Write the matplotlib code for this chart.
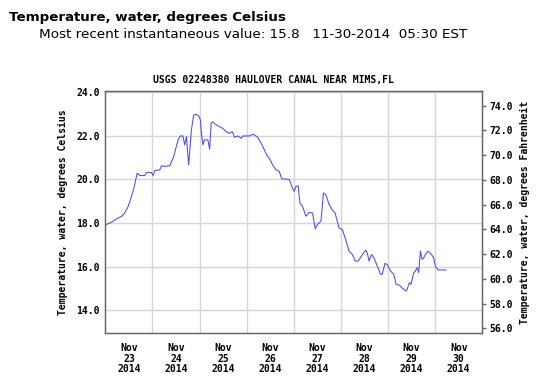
import numpy as np
import matplotlib
matplotlib.use("Agg")
import matplotlib.pyplot as plt
import pandas as pd

# hours since 2014-11-23 00:00 EST, water temperature in deg C
hours = [0.0, 1.5, 4.0, 5.7, 8.3, 9.9, 11.6, 13.3, 14.5, 16.2, 17.6, 20.1, 21.0, 23.5,
         24.3, 25.2, 27.7, 28.6, 30.2, 32.8, 34.8, 37.0, 38.2, 39.5, 40.4, 41.3, 42.4,
         42.9, 43.8, 45.0, 46.3, 47.6, 48.4, 48.9, 49.7, 50.5, 52.2, 53.1, 53.9, 54.7,
         56.0, 58.1, 59.8, 61.5, 63.2, 64.6, 65.8, 67.4, 69.2, 70.0, 73.4, 75.4, 77.6,
         79.3, 81.0, 82.1, 83.5, 85.2, 86.9, 88.6, 89.8, 92.0, 93.7, 95.3, 96.2, 97.1,
         98.2, 99.1, 100.4, 102.2, 103.8, 105.5, 106.9, 108.0, 109.8, 111.1, 112.3,
         114.0, 115.6, 117.0, 119.0, 120.7, 122.4, 124.1, 125.8, 127.2, 128.8, 130.9,
         132.6, 133.4, 134.3, 135.6, 136.8, 138.5, 140.2, 141.0, 142.4, 143.5, 145.3,
         146.9, 148.1, 149.8, 151.5, 153.2, 153.7, 154.9, 155.7, 157.1, 157.9, 158.8,
         159.6, 160.5, 161.3, 162.2, 163.0, 164.4, 166.1, 167.2, 168.1, 169.4, 173.5]
temp_c = [17.90, 17.97, 18.08, 18.19, 18.31, 18.46, 18.76, 19.22, 19.60, 20.29, 20.18,
          20.18, 20.32, 20.32, 20.18, 20.41, 20.44, 20.63, 20.60, 20.63, 21.05, 21.82,
          22.00, 22.00, 21.59, 21.97, 20.67, 21.20, 22.27, 22.96, 22.99, 22.92, 22.73,
          22.12, 21.59, 21.82, 21.82, 21.39, 22.58, 22.65, 22.54, 22.43, 22.35, 22.20,
          22.12, 22.20, 21.94, 22.00, 21.89, 22.00, 22.00, 22.08, 21.94, 21.67, 21.36,
          21.13, 20.98, 20.67, 20.44, 20.37, 20.03, 20.02, 19.99, 19.60, 19.45, 19.68,
          19.71, 18.92, 18.76, 18.31, 18.49, 18.46, 17.73, 17.93, 18.08, 19.38, 19.30,
          18.84, 18.61, 18.46, 17.78, 17.70, 17.24, 16.71, 16.55, 16.25, 16.25, 16.55,
          16.75, 16.63, 16.25, 16.55, 16.40, 16.02, 15.64, 15.64, 16.14, 16.10, 15.79,
          15.64, 15.18, 15.14, 14.98, 14.87, 14.95, 15.26, 15.18, 15.72, 15.79, 15.95,
          15.72, 16.71, 16.33, 16.41, 16.55, 16.71, 16.55, 16.41, 16.02, 15.84, 15.84]

c_ticks = [14, 16, 18, 20, 22, 24]
f_ticks = [56, 58, 60, 62, 64, 66, 68, 70, 72, 74]
day_labels = ["Nov\n23\n2014", "Nov\n24\n2014", "Nov\n25\n2014", "Nov\n26\n2014",
              "Nov\n27\n2014", "Nov\n28\n2014", "Nov\n29\n2014", "Nov\n30\n2014"]

start = pd.Timestamp("2014-11-23")
times = start + pd.to_timedelta(hours, unit="h")

mono = "DejaVu Sans Mono"
fig = plt.figure(figsize=(5.5, 3.77), dpi=100)
ax = fig.add_axes([0.1916, 0.1159, 0.6853, 0.6435])

# grid
ax.set_axisbelow(True)
ax.grid(True, which="major", color="#d6d6d6", lw=1.0)
ax.plot(times, temp_c, color="#4a4aff", lw=0.75)

ax.set_xlim(start, start + pd.Timedelta(days=8))
ax.set_ylim(12.93, 24.08)

major = [start + pd.Timedelta(days=i) for i in range(1, 8)]
minor = [start + pd.Timedelta(days=i, hours=12) for i in range(8)]
ax.set_xticks(major)
ax.set_xticklabels([])
ax.set_xticks(minor, minor=True)
ax.set_xticklabels(day_labels, minor=True, family=mono, weight="bold", fontsize=7,
                   linespacing=1.08)
ax.tick_params(axis="x", which="both", length=0, pad=7)

ax.set_yticks(c_ticks)
ax.set_yticklabels(["%.1f" % v for v in c_ticks], family=mono, weight="bold", fontsize=7)
ax.tick_params(axis="y", length=0, pad=4)
ax.set_ylabel("Temperature, water, degrees Celsius", family=mono, weight="bold",
              fontsize=7, labelpad=6)

for s in ax.spines.values():
    s.set_color("#666666")
    s.set_linewidth(1.0)

ax2 = ax.twinx()
ax2.set_ylim(55.6, 75.21)
ax2.set_yticks(f_ticks)
ax2.set_yticklabels(["%.1f" % v for v in f_ticks], family=mono, weight="bold", fontsize=7)
ax2.tick_params(axis="y", length=3, width=1, color="#666666", pad=2)
ax2.set_ylabel("Temperature, water, degrees Fahrenheit", family=mono, weight="bold",
               fontsize=7, labelpad=5)
for s in ax2.spines.values():
    s.set_color("#666666")

fig.text(0.017, 0.954, "Temperature, water, degrees Celsius", fontsize=9.6,
         weight="bold", va="center", ha="left")
fig.text(0.0715, 0.909, "Most recent instantaneous value: 15.8   11-30-2014  05:30 EST",
         fontsize=9.7, va="center", ha="left")
fig.text(0.4973, 0.788, "USGS 02248380 HAULOVER CANAL NEAR MIMS,FL", family=mono,
         weight="bold", fontsize=7, va="center", ha="center")

fig.savefig("out.png", dpi=100)
